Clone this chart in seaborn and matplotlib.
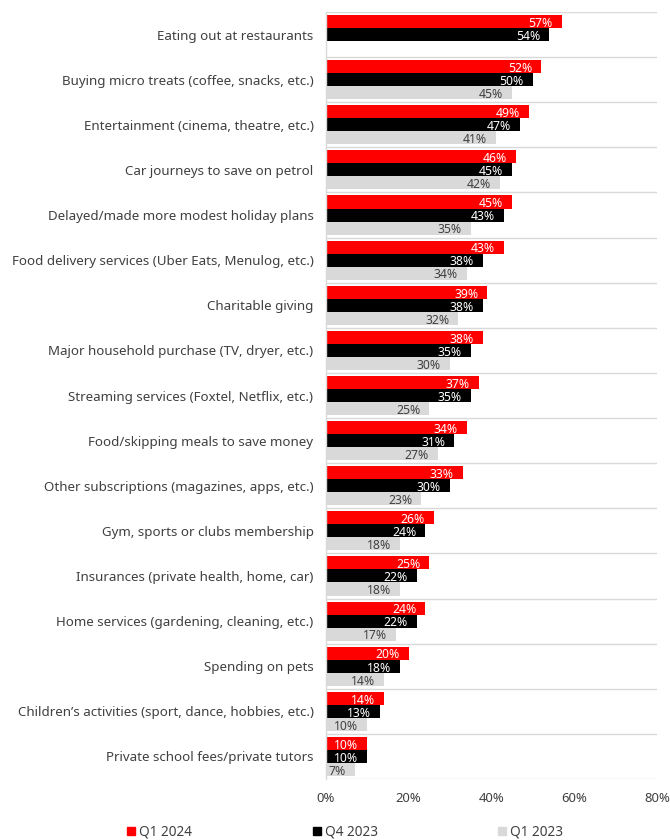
import numpy as np
import pandas as pd
import matplotlib
matplotlib.use("Agg")
import matplotlib.pyplot as plt
from matplotlib.lines import Line2D
import seaborn as sns

categories = [
    "Eating out at restaurants",
    "Buying micro treats (coffee, snacks, etc.)",
    "Entertainment (cinema, theatre, etc.)",
    "Car journeys to save on petrol",
    "Delayed/made more modest holiday plans",
    "Food delivery services (Uber Eats, Menulog, etc.)",
    "Charitable giving",
    "Major household purchase (TV, dryer, etc.)",
    "Streaming services (Foxtel, Netflix, etc.)",
    "Food/skipping meals to save money",
    "Other subscriptions (magazines, apps, etc.)",
    "Gym, sports or clubs membership",
    "Insurances (private health, home, car)",
    "Home services (gardening, cleaning, etc.)",
    "Spending on pets",
    "Children\u2019s activities (sport, dance, hobbies, etc.)",
    "Private school fees/private tutors",
]
series_names = ["Q1 2024", "Q4 2023", "Q1 2023"]
q1_2024 = [57, 52, 49, 46, 45, 43, 39, 38, 37, 34, 33, 26, 25, 24, 20, 14, 10]
q4_2023 = [54, 50, 47, 45, 43, 38, 38, 35, 35, 31, 30, 24, 22, 22, 18, 13, 10]
q1_2023 = [np.nan, 45, 41, 42, 35, 34, 32, 30, 25, 27, 23, 18, 18, 17, 14, 10, 7]
x_ticks = [0, 20, 40, 60, 80]

colors = ["#FF0000", "#000000", "#D9D9D9"]
label_colors = ["white", "white", "#404040"]
text_color = "#404040"
grid_color = "#D9D9D9"

df = pd.DataFrame({
    "category": categories * 3,
    "series": np.repeat(series_names, len(categories)),
    "value": q1_2024 + q4_2023 + q1_2023,
})

sns.set_theme(style="white")
plt.rcParams["font.family"] = ["Noto Sans", "DejaVu Sans"]

fig = plt.figure(figsize=(6.7, 8.4), dpi=100)
ax = fig.add_axes([326 / 670, 1 - 779 / 840, (657 - 326) / 670, (779 - 12) / 840])

sns.barplot(
    data=df, y="category", x="value", hue="series",
    order=categories, hue_order=series_names,
    palette=colors, saturation=1, width=0.867, orient="h",
    legend=False, ax=ax, linewidth=0,
)

# value labels just inside the end of each bar
for cont, lc in zip(ax.containers, label_colors):
    for patch in cont:
        w = patch.get_width()
        if not np.isfinite(w) or w == 0:
            continue
        y = patch.get_y() + patch.get_height() / 2
        ax.annotate(f"{w:.0f}%", (w, y), xytext=(-6.5, -1.3),
                    textcoords="offset points", ha="right", va="center",
                    color=lc, fontsize=8.8)

ax.set_xlim(0, 80)
ax.set_ylim(len(categories) - 0.5, -0.5)
ax.set_xticks(x_ticks)
ax.set_xticklabels([f"{t}%" for t in x_ticks])
ax.set_xlabel("")
ax.set_ylabel("")

# separators between category groups
ax.set_yticks(np.arange(-0.5, len(categories), 1), minor=True)
ax.grid(which="minor", axis="y", color=grid_color, linewidth=1)
ax.grid(which="major", visible=False)
ax.set_axisbelow(True)

for side in ["right", "bottom", "top"]:
    ax.spines[side].set_visible(False)
ax.spines["left"].set_color(grid_color)
ax.spines["left"].set_linewidth(1)

ax.tick_params(axis="y", which="both", length=0, pad=9, labelsize=9.6, labelcolor=text_color)
ax.tick_params(axis="x", length=0, pad=9, labelsize=9.4, labelcolor=text_color)

# legend entries along the bottom edge
legend_x = [127 / 670, 313 / 670, 498 / 670]
for name, col, lx in zip(series_names, colors, legend_x):
    h = Line2D([], [], marker="s", linestyle="none", color=col, markersize=5.5)
    fig.legend(handles=[h], labels=[name], loc="center left",
               bbox_to_anchor=(lx, 0.0095), frameon=False, fontsize=9.8,
               handlelength=0.55, handletextpad=0.3, borderpad=0,
               borderaxespad=0, labelcolor=text_color)

fig.savefig("out.png", dpi=100)
